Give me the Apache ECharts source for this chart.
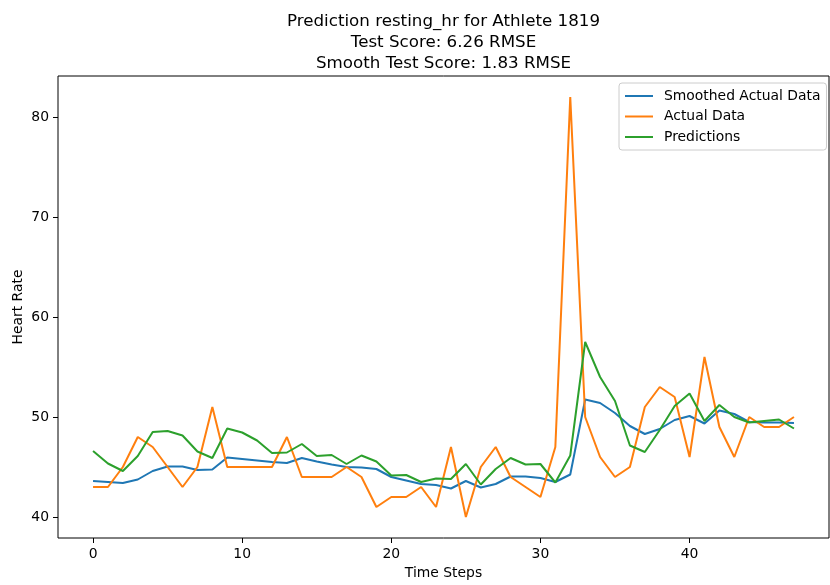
<!DOCTYPE html>
<html>
<head>
<meta charset="utf-8">
<script src="https://cdn.jsdelivr.net/npm/echarts@6/dist/echarts.min.js"></script>
<style>
  html, body { margin: 0; padding: 0; background: #fff; }
  #chart { width: 830px; height: 585px; }
</style>
</head>
<body>
<div id="chart"></div>
<script>
// Time step index for each observation
const timeSteps = [0,1,2,3,4,5,6,7,8,9,10,11,12,13,14,15,16,17,18,19,20,21,22,23,
                   24,25,26,27,28,29,30,31,32,33,34,35,36,37,38,39,40,41,42,43,44,45,46,47];

// Smoothed resting heart rate
const smoothedActual = [43.6,43.5,43.4,43.75,44.6,45.05,45.05,44.7,44.75,45.95,
                        45.8,45.65,45.5,45.4,45.9,45.55,45.25,45.0,44.95,44.8,
                        44.0,43.65,43.3,43.2,42.85,43.6,42.95,43.3,44.05,44.05,
                        43.9,43.5,44.25,51.75,51.4,50.4,49.1,48.3,48.8,49.7,
                        50.1,49.35,50.65,50.3,49.5,49.45,49.45,49.4];

// Raw resting heart rate
const actualData = [43,43,45,48,47,45,43,45,51,45,
                    45,45,45,48,44,44,44,45,44,41,
                    42,42,43,41,47,40,45,47,44,43,
                    42,47,82,50,46,44,45,51,53,52,
                    46,56,49,46,50,49,49,50];

// Model output
const predictions = [46.6,45.35,44.6,46.1,48.5,48.6,48.15,46.55,45.9,48.85,
                     48.45,47.65,46.4,46.45,47.3,46.1,46.2,45.3,46.15,45.55,
                     44.15,44.2,43.5,43.85,43.8,45.3,43.25,44.8,45.9,45.25,
                     45.3,43.45,46.15,57.5,54.0,51.6,47.15,46.5,48.7,51.1,
                     52.35,49.6,51.2,50.0,49.45,49.6,49.75,48.85];

// Tick positions
const xTicks = [0, 10, 20, 30, 40];
const yTicks = [40, 50, 60, 70, 80];

const titleLines = [
  'Prediction resting_hr for Athlete 1819',
  'Test Score: 6.26 RMSE',
  'Smooth Test Score: 1.83 RMSE'
];

const FONT = '"DejaVu Sans", sans-serif';

function pairs(vals) {
  return timeSteps.map((t, i) => [t, vals[i]]);
}

// Axis limits padded by 5% of the data span on each side
const xSpan = timeSteps[timeSteps.length - 1] - timeSteps[0];
const xMin = timeSteps[0] - 0.05 * xSpan;
const xMax = timeSteps[timeSteps.length - 1] + 0.05 * xSpan;
const allY = smoothedActual.concat(actualData, predictions);
const yLo = Math.min(...allY), yHi = Math.max(...allY);
const yMin = yLo - 0.05 * (yHi - yLo);
const yMax = yHi + 0.05 * (yHi - yLo);

const chart = echarts.init(document.getElementById('chart'), null, { renderer: 'canvas' });

const lineSeries = (name, vals, color) => ({
  name: name,
  type: 'line',
  data: pairs(vals),
  showSymbol: false,
  symbol: 'none',
  lineStyle: { color: color, width: 2 },
  itemStyle: { color: color },
  emphasis: { disabled: true },
  z: 2
});

chart.setOption({
  animation: false,
  backgroundColor: '#ffffff',
  textStyle: { fontFamily: FONT },
  graphic: [{
    type: 'text',
    x: 443.5,
    y: 11,
    style: {
      text: titleLines.join('\n'),
      font: '16.7px ' + FONT,
      fill: '#000',
      align: 'center',
      verticalAlign: 'top',
      lineHeight: 21
    }
  }],
  grid: {
    left: 58, top: 76, width: 771, height: 462,
    outerBoundsMode: 'none',
    containLabel: false,
    show: true, borderColor: '#000', borderWidth: 1, backgroundColor: 'transparent'
  },
  legend: {
    orient: 'vertical',
    left: 619,
    top: 83,
    padding: [5, 6, 5, 6],
    itemGap: 4.5,
    itemWidth: 28,
    itemHeight: 2,
    icon: 'rect',
    backgroundColor: 'rgba(255,255,255,0.8)',
    borderColor: '#cccccc',
    borderWidth: 1,
    borderRadius: 3,
    textStyle: { fontFamily: FONT, fontSize: 13.9, color: '#000', lineHeight: 16, padding: [0, 0, 0, 6] },
    data: ['Smoothed Actual Data', 'Actual Data', 'Predictions']
  },
  xAxis: {
    type: 'value',
    min: xMin,
    max: xMax,
    name: 'Time Steps',
    nameLocation: 'middle',
    nameGap: 28,
    nameTextStyle: { fontFamily: FONT, fontSize: 13.9, color: '#000' },
    axisLine: { show: false, onZero: false },
    axisTick: { show: true, length: 5, customValues: xTicks, lineStyle: { color: '#000', width: 1 } },
    axisLabel: { customValues: xTicks, margin: 9, fontFamily: FONT, fontSize: 13.9, color: '#000' },
    splitLine: { show: false }
  },
  yAxis: {
    type: 'value',
    min: yMin,
    max: yMax,
    name: 'Heart Rate',
    nameLocation: 'middle',
    nameGap: 33,
    nameMoveOverlap: false,
    nameTextStyle: { fontFamily: FONT, fontSize: 13.9, color: '#000' },
    axisLine: { show: false, onZero: false },
    axisTick: { show: true, length: 5, customValues: yTicks, lineStyle: { color: '#000', width: 1 } },
    axisLabel: { customValues: yTicks, margin: 9, fontFamily: FONT, fontSize: 13.9, color: '#000' },
    splitLine: { show: false }
  },
  series: [
    lineSeries('Smoothed Actual Data', smoothedActual, '#1f77b4'),
    lineSeries('Actual Data', actualData, '#ff7f0e'),
    lineSeries('Predictions', predictions, '#2ca02c')
  ]
});
</script>
</body>
</html>
